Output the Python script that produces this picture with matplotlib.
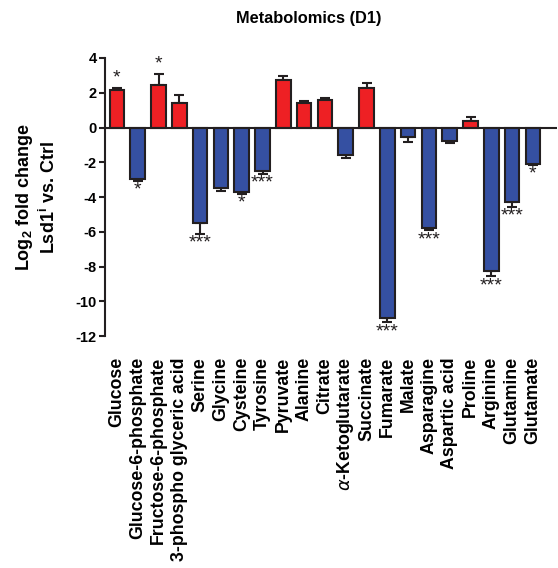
import matplotlib
matplotlib.use("Agg")
import matplotlib.pyplot as plt
import numpy as np

plt.rcParams['font.family'] = ['Liberation Sans', 'DejaVu Sans']
plt.rcParams['mathtext.fontset'] = 'custom'
plt.rcParams['mathtext.rm'] = 'Liberation Sans'
plt.rcParams['mathtext.bf'] = 'Liberation Sans:bold'

categories = ["Glucose", "Glucose-6-phosphate", "Fructose-6-phosphate",
              "3-phospho glyceric acid", "Serine", "Glycine", "Cysteine",
              "Tyrosine", "Pyruvate", "Alanine", "Citrate",
              "$\\alpha$-Ketoglutarate", "Succinate", "Fumarate", "Malate",
              "Asparagine", "Aspartic acid", "Proline", "Arginine",
              "Glutamine", "Glutamate"]
values = [2.15, -2.95, 2.45, 1.4, -5.5, -3.5, -3.7, -2.5, 2.75, 1.4, 1.6,
          -1.6, 2.25, -10.95, -0.55, -5.8, -0.75, 0.4, -8.25, -4.3, -2.1]
errors = [0.1, 0.1, 0.6, 0.45, 0.6, 0.15, 0.12, 0.15, 0.2, 0.1, 0.1,
          0.18, 0.3, 0.25, 0.3, 0.1, 0.12, 0.18, 0.3, 0.25, 0.06]
stars = ["*", "*", "*", "", "***", "", "*", "***", "", "", "",
         "", "", "***", "", "***", "", "", "***", "***", "*"]

red = "#EE2024"
blue = "#3550A2"
edge = "#231F20"

fig = plt.figure(figsize=(5.58, 5.68), dpi=100)
ax = fig.add_axes([0.188, 0.408, 0.81, 0.49])

n = len(categories)
x = np.arange(n)
colors = [red if v > 0 else blue for v in values]
ax.bar(x, values, width=0.70, color=colors, edgecolor=edge, linewidth=1.5, zorder=2)
for xi, v, e in zip(x, values, errors):
    lower = [0] if v > 0 else [e]
    upper = [e] if v > 0 else [0]
    ax.errorbar(xi, v, yerr=[lower, upper], fmt='none', ecolor=edge,
                elinewidth=1.5, capsize=3.5, capthick=1.5, zorder=1)
for xi, v, e, s in zip(x, values, errors, stars):
    if not s:
        continue
    if v > 0:
        ax.text(xi, v + e + 0.1, s, ha='center', va='bottom', fontsize=14, color=edge)
    else:
        ax.text(xi, v - e - 0.05, s, ha='center', va='top', fontsize=14, color=edge)

ax.axhline(0, color=edge, linewidth=1.5, zorder=3)
ax.set_xlim(-0.58, n - 1 + 1.15)
ax.set_ylim(-12, 4)
ax.set_yticks(np.arange(-12, 5, 2))
ax.set_yticklabels([str(t) for t in range(-12, 5, 2)], fontsize=10.5, fontweight='bold')
for s in ['top', 'right', 'bottom']:
    ax.spines[s].set_visible(False)
ax.spines['left'].set_linewidth(1.5)
ax.spines['left'].set_color(edge)
ax.spines['left'].set_bounds(-12, 4)
ax.tick_params(axis='y', length=4, width=1.5, color=edge, pad=2)
ax.set_xticks(x)
ax.set_xticklabels(categories, rotation=90, fontsize=12.8, fontweight='bold')
ax.tick_params(axis='x', length=0, pad=15)

ax.set_ylabel("Log$_\\mathbf{2}$ fold change\nLsd1$^\\mathbf{i}$ vs. Ctrl", fontsize=13,
              fontweight='bold', linespacing=1.22)
ax.yaxis.set_label_coords((59 - 105) / 452, 0.5)

fig.text(309 / 558, 1 - 18 / 568, "Metabolomics (D1)", ha='center', va='center',
         fontsize=11.8, fontweight='bold')

fig.savefig("out.png", dpi=100)
